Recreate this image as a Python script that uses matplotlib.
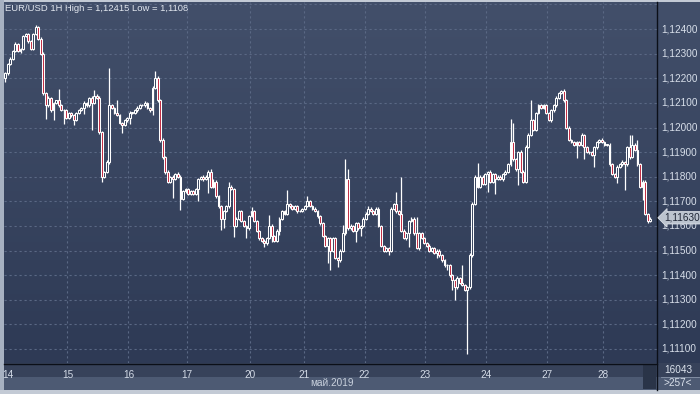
import matplotlib
matplotlib.use("Agg")
import matplotlib.pyplot as plt
import matplotlib.transforms as mtrans
import numpy as np
from matplotlib.patches import Rectangle

plt.rcParams['font.family'] = ['Liberation Sans', 'DejaVu Sans']

# hourly closes (open of each bar = previous close)
first_open = 1.1220
closes = [
    1.1222, 1.1226, 1.1228, 1.1231, 1.1234, 1.1231, 1.1232, 1.1237, 1.1238, 1.1235, 1.1232, 1.1238, 1.1241, 1.1236, 1.1230, 1.1214, 1.1209, 1.1212, 1.1207, 1.1210, 1.1211, 1.1209, 1.1207, 1.1207, 1.1204,
    1.1206, 1.1205, 1.1203, 1.1206, 1.1207, 1.1208, 1.1210, 1.1209, 1.1212, 1.1210, 1.1213, 1.1212, 1.1198, 1.1180, 1.1182, 1.1186, 1.1209, 1.1208, 1.1206, 1.1205, 1.1202, 1.1201, 1.1203, 1.1204, 1.1206,
    1.1206, 1.1207, 1.1208, 1.1209, 1.1209, 1.1210, 1.1208, 1.1207, 1.1216, 1.1220, 1.1211, 1.1195, 1.1188, 1.1182, 1.1178, 1.1180, 1.1179, 1.1181, 1.1180, 1.1171, 1.1174, 1.1175, 1.1173, 1.1174, 1.1173,
    1.1175, 1.1179, 1.1180, 1.1179, 1.1180, 1.1182, 1.1176, 1.1178, 1.1172, 1.1168, 1.1163, 1.1166, 1.1168, 1.1176, 1.1175, 1.1160, 1.1163, 1.1166, 1.1162, 1.1160, 1.1159, 1.1164, 1.1166, 1.1162, 1.1158,
    1.1155, 1.1154, 1.1153, 1.1155, 1.1160, 1.1156, 1.1154, 1.1158, 1.1163, 1.1166, 1.1165, 1.1169, 1.1168, 1.1167, 1.1168, 1.1166, 1.1166, 1.1167, 1.1168, 1.1170, 1.1168, 1.1167, 1.1166, 1.1164, 1.1161,
    1.1156, 1.1152, 1.1155, 1.1150, 1.1155, 1.1147, 1.1146, 1.1150, 1.1157, 1.1179, 1.1159, 1.1160, 1.1158, 1.1161, 1.1159, 1.1160, 1.1163, 1.1165, 1.1167, 1.1166, 1.1165, 1.1167, 1.1160, 1.1152, 1.1150,
    1.1151, 1.1150, 1.1167, 1.1169, 1.1166, 1.1165, 1.1158, 1.1155, 1.1157, 1.1162, 1.1163, 1.1157, 1.1151, 1.1157, 1.1155, 1.1153, 1.1152, 1.1150, 1.1151, 1.1149, 1.1150, 1.1148, 1.1146, 1.1144, 1.1144,
    1.1140, 1.1138, 1.1135, 1.1139, 1.1137, 1.1136, 1.1134, 1.1135, 1.1148, 1.1169, 1.1180, 1.1176, 1.1180, 1.1177, 1.1181, 1.1182, 1.1178, 1.1181, 1.1179, 1.1180, 1.1179, 1.1181, 1.1182, 1.1185, 1.1194,
    1.1187, 1.1183, 1.1190, 1.1182, 1.1178, 1.1192, 1.1197, 1.1203, 1.1199, 1.1206, 1.1209, 1.1208, 1.1209, 1.1206, 1.1203, 1.1207, 1.1209, 1.1212, 1.1214, 1.1215, 1.1211, 1.1200, 1.1195, 1.1194, 1.1193,
    1.1194, 1.1193, 1.1197, 1.1192, 1.1190, 1.1190, 1.1189, 1.1192, 1.1194, 1.1195, 1.1194, 1.1193, 1.1193, 1.1185, 1.1181, 1.1180, 1.1184, 1.1185, 1.1186, 1.1185, 1.1192, 1.1188, 1.1193, 1.1191, 1.1185,
    1.1176, 1.1178, 1.1165, 1.1162, 1.1163,
]

# wick lengths above / below the body, in points (0.00001)
wick_up = [
    6, 4, 5, 3, 6, 4, 5, 4, 3, 6, 4, 5, 5, 4, 6, 8, 5, 6, 4, 5, 3, 48, 5, 4, 6,
    4, 5, 6, 4, 5, 3, 6, 4, 5, 6, 22, 5, 8, 6, 4, 7, 150, 5, 4, 50, 6, 4, 5, 3, 6,
    4, 5, 6, 4, 5, 6, 4, 5, 8, 30, 9, 6, 7, 5, 6, 4, 6, 5, 8, 7, 5, 4, 6, 4, 5,
    5, 6, 4, 5, 6, 7, 11, 10, 5, 6, 4, 6, 5, 18, 7, 6, 5, 6, 4, 5, 4, 6, 17, 5, 6,
    5, 4, 6, 5, 44, 6, 5, 6, 7, 5, 4, 56, 5, 6, 4, 5, 6, 4, 5, 21, 6, 4, 5, 6, 5,
    6, 5, 7, 6, 5, 6, 4, 6, 34, 82, 41, 6, 5, 6, 4, 5, 6, 5, 10, 5, 6, 5, 6, 5, 4,
    5, 6, 7, 5, 48, 6, 150, 6, 5, 6, 7, 5, 66, 6, 5, 6, 4, 5, 6, 4, 5, 6, 5, 4, 6,
    5, 6, 5, 6, 4, 71, 5, 6, 8, 7, 6, 56, 5, 6, 5, 4, 6, 5, 4, 6, 5, 4, 6, 7, 94,
    80, 6, 5, 7, 6, 8, 7, 80, 6, 5, 6, 5, 4, 6, 5, 6, 5, 6, 5, 4, 6, 5, 6, 5, 4,
    6, 5, 6, 4, 5, 6, 5, 6, 4, 5, 6, 5, 4, 6, 5, 4, 6, 5, 6, 5, 6, 49, 40, 6, 39,
    6, 5, 6, 4, 5,
]
wick_dn = [
    15, 5, 4, 6, 5, 4, 6, 5, 4, 6, 5, 4, 6, 5, 6, 8, 55, 6, 5, 40, 6, 5, 4, 56, 6,
    5, 6, 20, 5, 6, 4, 25, 5, 6, 110, 5, 6, 7, 20, 6, 5, 7, 6, 5, 4, 6, 33, 5, 6, 25,
    5, 4, 6, 5, 4, 6, 5, 6, 20, 5, 6, 7, 6, 8, 6, 5, 77, 5, 6, 46, 5, 6, 4, 5, 6,
    5, 50, 4, 6, 5, 66, 6, 5, 7, 6, 47, 40, 5, 6, 5, 45, 6, 5, 6, 5, 39, 6, 5, 6, 5,
    6, 5, 16, 6, 5, 25, 6, 5, 15, 6, 5, 4, 6, 5, 4, 6, 5, 4, 6, 5, 4, 6, 5, 6, 5,
    6, 7, 71, 79, 6, 5, 27, 6, 5, 7, 6, 5, 6, 45, 5, 30, 5, 6, 4, 5, 6, 5, 6, 5, 6,
    5, 18, 6, 5, 6, 5, 6, 5, 6, 54, 5, 6, 5, 6, 5, 4, 6, 5, 6, 4, 20, 5, 6, 5, 20,
    6, 40, 50, 5, 6, 5, 6, 260, 6, 5, 6, 5, 6, 5, 4, 72, 6, 5, 60, 5, 4, 6, 5, 6, 5,
    6, 5, 64, 6, 5, 6, 5, 6, 5, 4, 6, 5, 6, 5, 4, 6, 5, 6, 5, 4, 6, 5, 6, 5, 4,
    54, 5, 6, 50, 5, 6, 5, 50, 6, 5, 4, 6, 5, 6, 5, 6, 26, 5, 6, 104, 5, 6, 5, 6, 5,
    6, 55, 6, 10, 5,
]

day_labels = ['14', '15', '16', '17', '20', '21', '22', '23', '24', '27', '28']
day_starts = [0, 25, 49, 72, 97, 118, 142, 166, 190, 214, 236]
price_ticks = [1.111, 1.112, 1.113, 1.114, 1.115, 1.116, 1.117,
               1.118, 1.119, 1.120, 1.121, 1.122, 1.123, 1.124]
last_price = 1.1163
title = 'EUR/USD 1H High = 1,12415 Low = 1,1108'
month_label = 'май.2019'
bars_total = 257
volume_label = '16043'

opens = [first_open] + closes[:-1]
highs = [max(o, c) + u * 1e-5 for o, c, u in zip(opens, closes, wick_up)]
lows = [min(o, c) - d * 1e-5 for o, c, d in zip(opens, closes, wick_dn)]

W, H = 700, 394
fig = plt.figure(figsize=(W / 100, H / 100), dpi=100)
fig.patch.set_facecolor('#3a465f')

# background panels in pixel coordinates
bg = fig.add_axes([0, 0, 1, 1])
bg.set_xlim(0, W)
bg.set_ylim(H, 0)
bg.axis('off')
grad = np.linspace(0, 1, 256).reshape(-1, 1)
top_c = np.array([0x42, 0x4f, 0x6a]) / 255
bot_c = np.array([0x2e, 0x3a, 0x55]) / 255
img = top_c[None, None, :] * (1 - grad[:, :, None]) + bot_c[None, None, :] * grad[:, :, None]
bg.imshow(img, extent=[4, W, 363, 2], aspect='auto', zorder=0)
bg.add_patch(Rectangle((0, 363), W, 14, fc='#37425a', ec='none', zorder=1))
bg.add_patch(Rectangle((0, 377), W, 13, fc='#4d5a73', ec='none', zorder=1))
bg.add_patch(Rectangle((0, 390), W, 4, fc='#c3cad5', ec='none', zorder=1))
bg.add_patch(Rectangle((0, 0), W, 2, fc='#c3cad5', ec='none', zorder=1))
bg.add_patch(Rectangle((0, 0), 3.5, 390, fc='#a7b1c1', ec='none', zorder=1))
bg.add_patch(Rectangle((643, 364), 13, 25, fc='#2a3448', ec='none', zorder=2))
bg.plot([656.5, 656.5], [2, 390], color='#0b0f18', lw=1.0, zorder=3)
bg.plot([4, 656.5], [363.5, 363.5], color='#0b0f18', lw=1.0, zorder=3)
bg.plot([661, 699], [377, 377], color='#8a96aa', lw=0.6, zorder=3)
bg.text(678, 370, volume_label, color='#dbe2ec', fontsize=7.2, ha='center', va='center', zorder=4)
bg.text(678, 383.5, '>%d<' % bars_total, color='#dbe2ec', fontsize=7.2, ha='center', va='center', zorder=4)
bg.text(332, 383.5, month_label, color='#c9d1dd', fontsize=7.2, ha='center', va='center', zorder=4)
bg.text(5, 8, title, color='#e3e8f0', fontsize=6.8, ha='left', va='center', zorder=4)

# main price axes
ax = fig.add_axes([4 / W, (H - 363) / H, 652.5 / W, 361 / H])
ax.set_facecolor('none')
ax.set_xlim(-0.5, bars_total - 0.5)
ax.set_ylim(1.11043, 1.12510)
for s in ax.spines.values():
    s.set_visible(False)
ax.set_xticks([])
ax.set_yticks([])

grid_kw = dict(color='#5a6884', lw=0.8, dashes=(2, 2.5), zorder=1)
for v in price_ticks + [1.125]:
    ax.axhline(v, **grid_kw)
for d in day_starts[1:]:
    ax.axvline(d - 0.5, **grid_kw)

x = np.arange(len(closes))
ax.vlines(x, lows, highs, color='white', lw=0.9, zorder=2)
bottoms = [min(o, c) for o, c in zip(opens, closes)]
heights = [max(abs(c - o), 0.00002) for o, c in zip(opens, closes)]
faces = ['#c0283f' if c < o else '#36425c' for o, c in zip(opens, closes)]
ax.bar(x, heights, bottom=bottoms, width=0.74, color=faces,
       edgecolor='white', linewidth=0.75, zorder=3)

# right-side price labels
tr = mtrans.blended_transform_factory(ax.transAxes, ax.transData)
for v in price_ticks:
    ax.text(1.008, v, ('%.5f' % v).replace('.', ','), transform=tr,
            color='#d8dfea', fontsize=7.2, ha='left', va='center', clip_on=False)
ax.text(1.012, last_price + 0.00003, ('%.5f' % last_price).replace('.', ','), transform=tr,
        color='#1f2636', fontsize=7.2, ha='left', va='center', clip_on=False, zorder=5,
        bbox=dict(boxstyle='larrow,pad=0.12', fc='#bcc4cf', ec='#e6eaf0', lw=0.5))

# date labels
trx = mtrans.blended_transform_factory(ax.transData, ax.transAxes)
for d, lab in zip(day_starts, day_labels):
    ax.text(max(d - 0.5, 0.9), -0.02, lab, transform=trx, color='#d3dae6',
            fontsize=7.2, ha='center', va='top', clip_on=False)

fig.savefig('out.png', dpi=100, facecolor=fig.get_facecolor())
